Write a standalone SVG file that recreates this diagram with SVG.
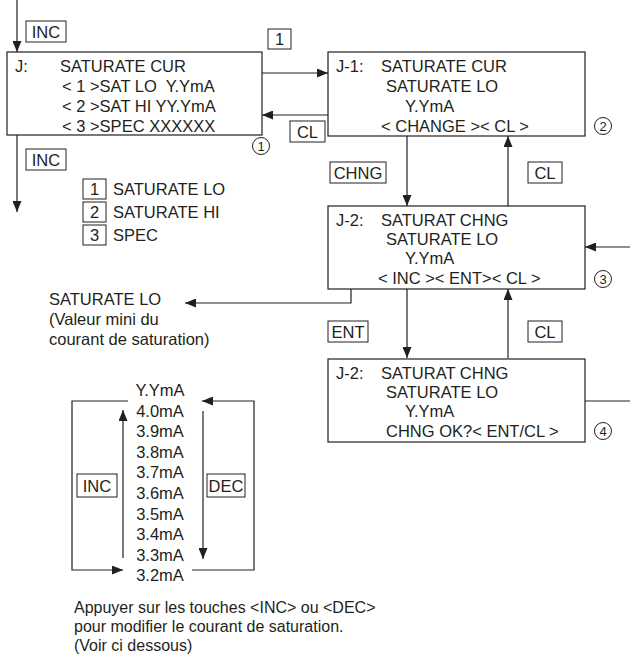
<svg xmlns="http://www.w3.org/2000/svg" width="630" height="657" viewBox="0 0 630 657">
<defs>
<marker id="ah" markerUnits="userSpaceOnUse" markerWidth="11" markerHeight="9" refX="11" refY="4.5" orient="auto">
<path d="M0,0 L11,4.5 L0,9 z" fill="#231f20"/>
</marker>
<style>
text{font-family:"Liberation Sans",Arial,Helvetica,sans-serif;font-size:16.5px;fill:#231f20;white-space:pre}
.box{fill:#fff;stroke:#231f20;stroke-width:1.2}
.lbl{fill:#fff;stroke:#231f20;stroke-width:1}
.c{text-anchor:middle}
.con{fill:none;stroke:#231f20;stroke-width:1.2}
.arr{marker-end:url(#ah)}
.num{font-size:13px}
.circ{fill:#fff;stroke:#231f20;stroke-width:1}
.note{font-size:16px}
</style>
</defs>
<rect width="630" height="657" fill="#fff"/>

<g id="connectors">
<line class="con arr" x1="17" y1="0" x2="17" y2="52"/>
<line class="con arr" x1="17" y1="135" x2="17" y2="212"/>
<line class="con arr" x1="262" y1="73" x2="328" y2="73"/>
<line class="con arr" x1="328" y1="115" x2="262" y2="115"/>
<line class="con arr" x1="407" y1="136" x2="407" y2="206"/>
<line class="con arr" x1="508" y1="206" x2="508" y2="136"/>
<line class="con arr" x1="630" y1="247" x2="585" y2="247"/>
<polyline class="con arr" points="351,289 351,303 185,303"/>
<line class="con arr" x1="407" y1="289" x2="407" y2="358"/>
<line class="con arr" x1="508" y1="358" x2="508" y2="289"/>
<line class="con" x1="585" y1="401" x2="630" y2="401"/>
<polyline class="con arr" points="128,401 72,401 72,570 123,570"/>
<polyline class="con arr" points="192,570 254,570 254,401 202,401"/>
<line class="con arr" x1="123" y1="558" x2="123" y2="410"/>
<line class="con arr" x1="203" y1="411" x2="203" y2="559"/>
</g>

<g id="lbl-inc-top"><rect class="lbl" x="26" y="21" width="40" height="21"/><text class="c" x="46" y="37.5">INC</text></g>
<g id="lbl-inc-bot"><rect class="lbl" x="26" y="149" width="40" height="21"/><text class="c" x="46" y="165.5">INC</text></g>
<g id="lbl-1"><rect class="lbl" x="268" y="29" width="23" height="20"/><text class="c" x="279.5" y="45">1</text></g>
<g id="lbl-cl-1"><rect class="lbl" x="290" y="121" width="35" height="21"/><text class="c" x="307.5" y="137.5">CL</text></g>
<g id="lbl-chng"><rect class="lbl" x="330" y="162" width="56" height="21"/><text class="c" x="358" y="178.5">CHNG</text></g>
<g id="lbl-cl-2"><rect class="lbl" x="528" y="162" width="34" height="21"/><text class="c" x="545" y="178.5">CL</text></g>
<g id="lbl-ent"><rect class="lbl" x="328" y="321" width="40" height="21"/><text class="c" x="348" y="337.5">ENT</text></g>
<g id="lbl-cl-3"><rect class="lbl" x="528" y="321" width="34" height="21"/><text class="c" x="545" y="337.5">CL</text></g>

<g id="node-j">
<rect class="box" x="7" y="52" width="255" height="83"/>
<text x="15" y="72">J:</text>
<text x="60" y="72">SATURATE CUR</text>
<text x="62" y="92">&lt; 1 &gt;SAT LO  Y.YmA</text>
<text x="62" y="112">&lt; 2 &gt;SAT HI YY.YmA</text>
<text x="62" y="132">&lt; 3 &gt;SPEC XXXXXX</text>
<circle class="circ" cx="261" cy="146" r="8.5"/><text class="c num" x="261" y="150.5">1</text>
</g>

<g id="legend">
<rect class="lbl" x="83" y="179" width="23" height="20"/><text class="c" x="94.5" y="195">1</text><text x="113" y="195">SATURATE LO</text>
<rect class="lbl" x="83" y="202" width="23" height="20"/><text class="c" x="94.5" y="218">2</text><text x="113" y="218">SATURATE HI</text>
<rect class="lbl" x="83" y="225" width="23" height="20"/><text class="c" x="94.5" y="241">3</text><text x="113" y="241">SPEC</text>
</g>

<g id="node-j1">
<rect class="box" x="328" y="52" width="257" height="84"/>
<text x="336" y="72">J-1:</text>
<text x="381" y="72">SATURATE CUR</text>
<text x="386" y="92">SATURATE LO</text>
<text x="405" y="112">Y.YmA</text>
<text x="381" y="132">&lt; CHANGE &gt;&lt; CL &gt;</text>
<circle class="circ" cx="603" cy="126" r="8.5"/><text class="c num" x="603" y="130.5">2</text>
</g>

<g id="node-j2">
<rect class="box" x="328" y="206" width="257" height="83"/>
<text x="336" y="226">J-2:</text>
<text x="381" y="226">SATURAT CHNG</text>
<text x="386" y="245">SATURATE LO</text>
<text x="405" y="264">Y.YmA</text>
<text x="378" y="284">&lt; INC &gt;&lt; ENT&gt;&lt; CL &gt;</text>
<circle class="circ" cx="603" cy="279" r="8.5"/><text class="c num" x="603" y="283.5">3</text>
</g>

<g id="node-j2b">
<rect class="box" x="328" y="359" width="257" height="83"/>
<text x="336" y="379">J-2:</text>
<text x="381" y="379">SATURAT CHNG</text>
<text x="386" y="398">SATURATE LO</text>
<text x="405" y="417">Y.YmA</text>
<text x="386" y="437">CHNG OK?&lt; ENT/CL &gt;</text>
<circle class="circ" cx="603" cy="431" r="8.5"/><text class="c num" x="603" y="435.5">4</text>
</g>

<g id="note-satlo">
<text x="49" y="305">SATURATE LO</text>
<text x="49" y="325">(Valeur mini du</text>
<text x="49" y="345">courant de saturation)</text>
</g>

<g id="values">
<text class="c" x="160" y="396">Y.YmA</text>
<text class="c" x="160" y="416.6">4.0mA</text>
<text class="c" x="160" y="437.2">3.9mA</text>
<text class="c" x="160" y="457.8">3.8mA</text>
<text class="c" x="160" y="478.4">3.7mA</text>
<text class="c" x="160" y="499">3.6mA</text>
<text class="c" x="160" y="519.6">3.5mA</text>
<text class="c" x="160" y="540.2">3.4mA</text>
<text class="c" x="160" y="560.8">3.3mA</text>
<text class="c" x="160" y="581.4">3.2mA</text>
</g>
<g id="lbl-inc-v"><rect class="lbl" x="77" y="474" width="40" height="23"/><text class="c" x="97" y="491.5">INC</text></g>
<g id="lbl-dec-v"><rect class="lbl" x="207" y="474" width="38" height="23"/><text class="c" x="226" y="491.5">DEC</text></g>

<g id="note-bottom">
<text class="note" x="74" y="613">Appuyer sur les touches &lt;INC&gt; ou &lt;DEC&gt;</text>
<text class="note" x="74" y="632">pour modifier le courant de saturation.</text>
<text class="note" x="74" y="651">(Voir ci dessous)</text>
</g>
</svg>
